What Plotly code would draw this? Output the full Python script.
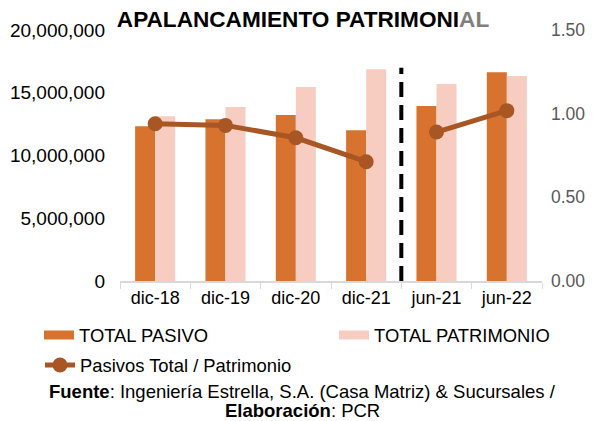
import plotly.graph_objects as go

categories = ["dic-18", "dic-19", "dic-20", "dic-21", "jun-21", "jun-22"]
total_pasivo = [12330000, 12880000, 13230000, 12010000, 13940000, 16630000]
total_patrimonio = [13120000, 13860000, 15460000, 16870000, 15700000, 16330000]
ratio = [0.94, 0.93, 0.856, 0.713, 0.89, 1.018]
left_ticks = [0, 5000000, 10000000, 15000000, 20000000]
left_tick_text = ["0", "5,000,000", "10,000,000", "15,000,000", "20,000,000"]
right_ticks = [0, 0.5, 1.0, 1.5]
right_tick_text = ["0.00", "0.50", "1.00", "1.50"]

C_PAS = "#D8722F"
C_PAT = "#F8CDC1"
C_LINE = "#A85623"
FONT = "Liberation Sans, Arial, sans-serif"

# page body has an 8px margin: figure is sized to fit the window
OFF = 8
W, H = 595 - OFF, 421 - OFF
# plot area in window pixels: x 120..542, y 30..281
ML = 120 - OFF
MR = W - (542 - OFF)
MT = 30 - OFF
MB = H - (281 - OFF)
PW, PH = W - ML - MR, H - MT - MB


def px_x(px):
    return (px - OFF - ML) / PW


def px_y(py):
    return (H - MB - (py - OFF)) / PH


fig = go.Figure()
fig.add_trace(go.Bar(x=categories, y=total_pasivo, name="TOTAL PASIVO", showlegend=False,
                     marker=dict(color=C_PAS, line=dict(width=0))))
fig.add_trace(go.Bar(x=categories, y=total_patrimonio, name="TOTAL PATRIMONIO", showlegend=False,
                     marker=dict(color=C_PAT, line=dict(width=0))))
# legend-only entries drawn as wide swatches
fig.add_trace(go.Scatter(x=[None], y=[None], name="TOTAL PASIVO", mode="lines",
                         line=dict(color=C_PAS, width=9), legend="legend"))
fig.add_trace(go.Scatter(x=[None], y=[None], name="TOTAL PATRIMONIO", mode="lines",
                         line=dict(color=C_PAT, width=9), legend="legend3"))
# Line split into two segments (annual / semiannual)
fig.add_trace(go.Scatter(x=categories[:4], y=ratio[:4], name="Pasivos Total / Patrimonio",
                         mode="lines+markers", yaxis="y2", legend="legend2",
                         line=dict(color=C_LINE, width=5),
                         marker=dict(color=C_LINE, size=15)))
fig.add_trace(go.Scatter(x=categories[4:], y=ratio[4:], name="Pasivos Total / Patrimonio",
                         mode="lines+markers", yaxis="y2", showlegend=False,
                         line=dict(color=C_LINE, width=5),
                         marker=dict(color=C_LINE, size=15)))

fig.add_shape(type="line", xref="x", yref="y", x0=3.5, x1=3.5, y0=0, y1=17000000,
              line=dict(color="black", width=4, dash="15px,8px"))

LEG_FONT = dict(size=18.4, color="#000000")


def legend_at(x_text, y_mid):
    return dict(orientation="h", xref="paper", yref="paper",
                x=px_x(x_text - 40), y=px_y(y_mid), xanchor="left", yanchor="middle",
                font=LEG_FONT, bgcolor="rgba(0,0,0,0)")


fig.update_layout(
    width=W, height=H,
    margin=dict(l=ML, r=MR, t=MT, b=MB, autoexpand=False),
    paper_bgcolor="white", plot_bgcolor="white",
    font=dict(family=FONT, size=16, color="#000000"),
    barmode="group", bargap=0.43, bargroupgap=0,
    title=dict(text="<b>APALANCAMIENTO PATRIMONI<span style='color:#7f7f7f'>AL</span></b>",
               x=(303 - OFF) / W, xanchor="center", xref="container",
               y=1 - (19 - OFF) / H, yanchor="middle",
               yref="container", font=dict(size=22.6, color="#000000")),
    xaxis=dict(type="category", showgrid=False, showline=True, linecolor="#d9d9d9",
               linewidth=1.5, ticks="outside", tickson="boundaries", ticklen=6,
               tickcolor="#d9d9d9", tickfont=dict(size=18, color="#000000")),
    yaxis=dict(range=[0, 20000000], tickvals=left_ticks, ticktext=left_tick_text,
               showgrid=False, zeroline=False, showline=False, ticklabelstandoff=14,
               tickfont=dict(size=19, color="#000000"), ticks=""),
    yaxis2=dict(range=[0, 1.5], overlaying="y", side="right", tickvals=right_ticks,
                ticktext=right_tick_text, showgrid=False, zeroline=False, ticklabelstandoff=8,
                tickfont=dict(size=17.5, color="#595959"), ticks=""),
    legend=legend_at(79, 335),
    legend3=legend_at(374, 335),
    legend2=legend_at(80, 365),
    annotations=[
        dict(text="<b>Fuente</b>: Ingeniería Estrella, S.A. (Casa Matriz) & Sucursales /",
             xref="paper", yref="paper", x=px_x(302.5), y=px_y(391),
             xanchor="center", yanchor="middle", showarrow=False,
             font=dict(size=18.5, color="#000000")),
        dict(text="<b>Elaboración</b>: PCR",
             xref="paper", yref="paper", x=px_x(302.5), y=px_y(410),
             xanchor="center", yanchor="middle", showarrow=False,
             font=dict(size=18.5, color="#000000")),
    ],
)

fig.write_html("out.html")
